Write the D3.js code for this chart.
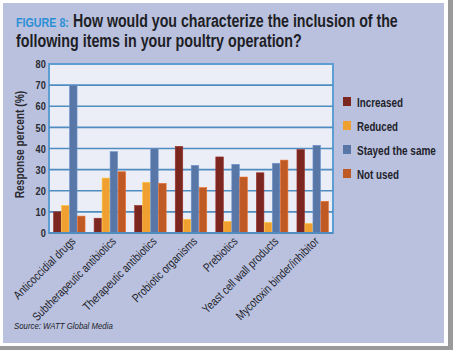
<!DOCTYPE html>
<html><head><meta charset="utf-8">
<script src="https://cdn.jsdelivr.net/npm/d3@7"></script>
<style>
html,body{margin:0;padding:0;background:#fff;}
svg{display:block;}
</style></head>
<body>
<script>
const categories = ["Anticoccidial drugs","Subtherapeutic antibiotics","Therapeutic antibiotics","Probiotic organisms","Prebiotics","Yeast cell wall products","Mycotoxin binder/inhibitor"];
const seriesNames = ["Increased","Reduced","Stayed the same","Not used"];
const increased = [10, 7, 13, 41, 36, 28.5, 39.5];
const reduced = [13, 26, 24, 6.5, 5.5, 5, 4.5];
const stayedSame = [70, 38.5, 40, 32, 32.5, 33, 41.5];
const notUsed = [8, 29, 23.5, 21.5, 26.5, 34.5, 15];
const yTicks = [0,10,20,30,40,50,60,70,80];
const colors = ["#7c2620","#f0a030","#5877a6","#bf5a25"];

const series = [increased, reduced, stayedSame, notUsed];
const W = 453, H = 350;
const svg = d3.select("body").append("svg").attr("width", W).attr("height", H);
const font = "'Liberation Sans Narrow','Arial Narrow','Liberation Sans',sans-serif";

// frame
svg.append("rect").attr("x",0).attr("y",0).attr("width",W).attr("height",H).attr("fill","#fff");
svg.append("rect").attr("x",448).attr("y",0).attr("width",5).attr("height",H).attr("fill","#9a9a9a");
svg.append("rect").attr("x",0).attr("y",346).attr("width",W).attr("height",4).attr("fill","#9a9a9a");
svg.append("rect").attr("x",3).attr("y",3).attr("width",441).attr("height",340).attr("fill","#b9c1de");

// condensed text: measured, then squeezed horizontally to the wanted width
function fitText(x, yy, len, txt, size, fill, weight, style){
  const t = svg.append("text").attr("x",0).attr("y",0).attr("font-family",font).attr("font-weight",weight||"bold")
    .attr("font-style",style||"normal").attr("font-size",size).attr("fill",fill).text(txt);
  const natural = t.node().getComputedTextLength();
  t.attr("transform",`translate(${x},${yy}) scale(${len/natural},1)`);
  return t;
}
fitText(16, 27, 53, "FIGURE 8:", 13.5, "#2a8fd6");
fitText(73, 27, 325, "How would you characterize the inclusion of the", 17.5, "#1e1e26");
fitText(16, 46.5, 286, "following items in your poultry operation?", 17.5, "#1e1e26");

const m = {l:49, r:333, t:64, b:233};
const y = d3.scaleLinear().domain([0,80]).range([m.b, m.t]);
const x0 = d3.scaleBand().domain(categories).range([m.l, m.r]).paddingInner(0.2).paddingOuter(0.1);
const x1 = d3.scaleBand().domain(seriesNames).range([0, x0.bandwidth()]).padding(0.06);

svg.append("rect").attr("x",m.l).attr("y",m.t).attr("width",m.r-m.l).attr("height",m.b-m.t)
  .attr("fill","#eceef7").attr("stroke","#5d9ed3").attr("stroke-width",2);

// gridlines
svg.append("g").selectAll("line").data(yTicks.filter(d=>d>0 && d<80)).join("line")
  .attr("x1",m.l).attr("x2",m.r).attr("y1",d=>y(d)).attr("y2",d=>y(d))
  .attr("stroke","#4f8cbf").attr("stroke-width",1.6);

// bars
const g = svg.append("g");
categories.forEach((c,i)=>{
  seriesNames.forEach((s,j)=>{
    const v = series[j][i];
    g.append("rect").attr("x", x0(c)+x1(s)).attr("y", y(v)).attr("width", x1.bandwidth()).attr("height", y(0)-y(v))
      .attr("fill", colors[j]).attr("stroke", d3.color(colors[j]).brighter(0.6)).attr("stroke-width",0.6);
  });
});

// axis line
svg.append("line").attr("x1",m.l).attr("x2",m.r).attr("y1",m.b).attr("y2",m.b).attr("stroke","#4f8cbf").attr("stroke-width",2);

// y axis
const yAxis = d3.axisLeft(y).tickValues(yTicks).tickSize(0).tickPadding(4);
const ya = svg.append("g").attr("transform",`translate(${m.l},0)`).call(yAxis);
ya.select(".domain").remove();
ya.selectAll("text").attr("font-family",font).attr("font-weight","bold").attr("font-size",11.5).attr("fill","#2a2a30")
  .attr("transform","scale(0.8,1)");

svg.append("text").attr("transform",`translate(24,${(m.t+m.b)/2 - 4}) rotate(-90) scale(0.82,1)`).attr("text-anchor","middle")
  .attr("font-family",font).attr("font-weight","bold").attr("font-size",12.5).attr("fill","#2a2a30").text("Response percent (%)");

// x axis labels
const xAxis = d3.axisBottom(x0).tickSize(0).tickPadding(0);
const xa = svg.append("g").attr("transform",`translate(0,${m.b})`).call(xAxis);
xa.select(".domain").remove();
xa.selectAll(".tick text").attr("text-anchor","end").attr("dy",0).attr("y",0)
  .attr("transform","translate(7,9) rotate(-45) scale(0.82,1)")
  .attr("font-family",font).attr("font-size",12).attr("fill","#22222a");

// legend
const legendLens = [46, 41, 79, 42];
seriesNames.forEach((s,j)=>{
  const yy = 97 + j*24;
  svg.append("rect").attr("x",343).attr("y",yy).attr("width",8).attr("height",9).attr("fill",colors[j]);
  fitText(357, yy+9.5, legendLens[j], s, 12.5, "#22222a");
});

// source
fitText(14, 329, 99, "Source: WATT Global Media", 9, "#22222a", "normal", "italic");
</script>
</body></html>
